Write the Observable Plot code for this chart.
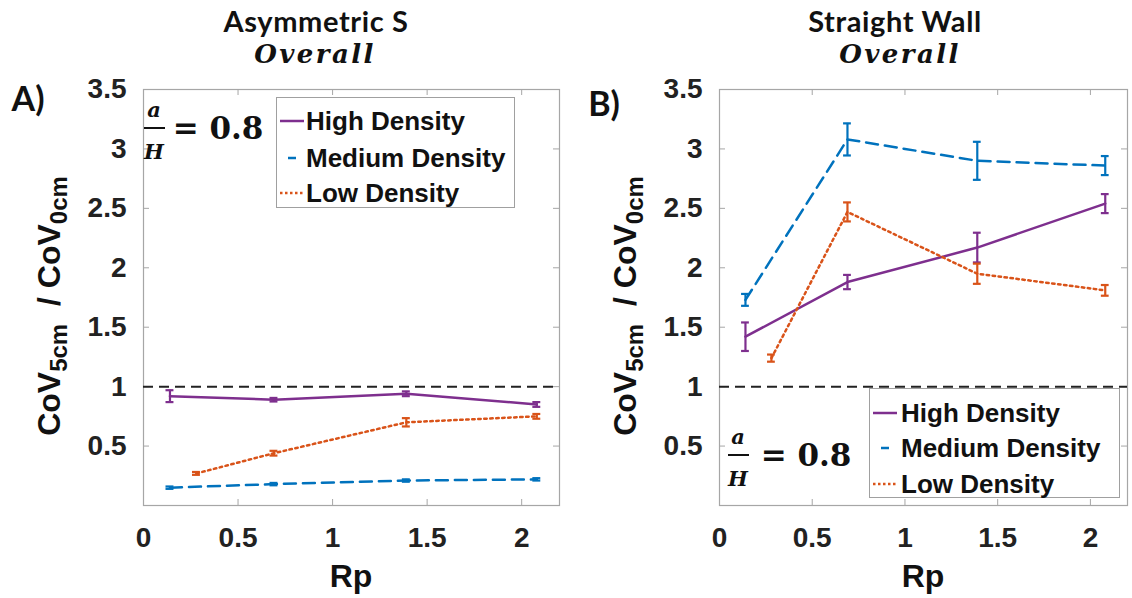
<!DOCTYPE html>
<html><head><meta charset="utf-8">
<script src="https://cdn.jsdelivr.net/npm/d3@7"></script>
<script src="https://cdn.jsdelivr.net/npm/@observablehq/plot@0.6"></script>
<style>
body{margin:0;background:#fff;}
#root{position:relative;width:1132px;height:598px;overflow:hidden;font-family:"Liberation Sans",Arial,sans-serif;color:#111;}
.abs{position:absolute;white-space:nowrap;line-height:1;transform:translate(-50%,-50%);}
.panel{position:absolute;top:0;}
.title{font-family:Lato,"Open Sans",sans-serif;font-weight:bold;font-size:29px;letter-spacing:0.6px;line-height:0.85;}
.sub{font-family:"DejaVu Serif",serif;font-style:italic;font-weight:bold;font-size:26px;letter-spacing:2.4px;line-height:0.85;}
.tag{font-family:Lato,"Open Sans",sans-serif;font-weight:bold;font-size:34px;}
.ylab{font-weight:bold;font-size:32px;transform:translate(-50%,-50%) rotate(-90deg);}
.ylab sub{font-size:24px;vertical-align:-0.32em;}
.xlab{font-weight:bold;font-size:32px;}
.frac{font-family:"DejaVu Serif",serif;font-style:italic;font-weight:bold;font-size:21px;}
.eq{font-family:"DejaVu Serif",serif;font-weight:bold;font-size:31px;}
.bar{position:absolute;height:2px;background:#111;}
.legend{position:absolute;background:#fff;border:1px solid #a0a0a0;box-sizing:border-box;}
.legend .row{position:absolute;left:0;font-weight:bold;font-size:26px;white-space:nowrap;line-height:1;}
</style></head><body><div id="root"></div><script>
// ---- data ----
const rpHighMed = [0.14, 0.69, 1.39, 2.08];
const rpLow = [0.28, 0.69, 1.39, 2.08];
const seriesNames = ["High Density", "Medium Density", "Low Density"];
const seriesColors = ["#7E2F8E", "#0072BD", "#D95319"];
const seriesDash = [null, "12,7", "2.5,3.5"];

const asymHigh = [0.92, 0.89, 0.94, 0.85];
const asymHighErr = [0.05, 0.015, 0.02, 0.02];
const asymMed = [0.15, 0.18, 0.21, 0.22];
const asymMedErr = [0.01, 0.01, 0.01, 0.01];
const asymLow = [0.27, 0.44, 0.70, 0.75];
const asymLowErr = [0.012, 0.02, 0.035, 0.02];

const wallHigh = [1.42, 1.88, 2.17, 2.54];
const wallHighErr = [0.12, 0.06, 0.125, 0.08];
const wallMed = [1.73, 3.08, 2.90, 2.86];
const wallMedErr = [0.05, 0.135, 0.16, 0.08];
const wallLow = [1.24, 2.47, 1.95, 1.81];
const wallLowErr = [0.03, 0.08, 0.085, 0.045];

const xTicks = [0, 0.5, 1, 1.5, 2];
const yTicks = [0.5, 1, 1.5, 2, 2.5, 3, 3.5];
const refLine = [1];

function rows(name, xs, ys, es) {
  return xs.map((x, i) => ({series: name, x, y: ys[i], e: es[i]}));
}
const asymData = [
  rows(seriesNames[0], rpHighMed, asymHigh, asymHighErr),
  rows(seriesNames[1], rpHighMed, asymMed, asymMedErr),
  rows(seriesNames[2], rpLow, asymLow, asymLowErr)
];
const wallData = [
  rows(seriesNames[0], rpHighMed, wallHigh, wallHighErr),
  rows(seriesNames[1], rpHighMed, wallMed, wallMedErr),
  rows(seriesNames[2], rpLow, wallLow, wallLowErr)
];

const W = 566, H = 598, MT = 89, MB = 93;
const grey = "#a6a6a6";

function panel(data, ml, mr) {
  const pw = W - ml - mr, ph = H - MT - MB;
  const marks = [
    Plot.frame({stroke: grey, strokeWidth: 1.2}),
    Plot.ruleX(xTicks, {stroke: grey, insetTop: ph - 6}),
    Plot.ruleX(xTicks, {stroke: grey, insetBottom: ph - 6}),
    Plot.ruleY(yTicks, {stroke: grey, insetRight: pw - 6}),
    Plot.ruleY(yTicks, {stroke: grey, insetLeft: pw - 6}),
    Plot.axisX(xTicks, {anchor: "bottom", tickSize: 0, tickPadding: 22, tickFormat: d => String(d), label: null}),
    Plot.axisY(yTicks, {anchor: "left", tickSize: 0, tickPadding: 17, tickFormat: d => String(d), label: null}),
    Plot.ruleY(refLine, {stroke: "#222", strokeWidth: 2, strokeDasharray: "10,6"})
  ];
  data.forEach((d, i) => {
    const c = seriesColors[i];
    marks.push(Plot.line(d, {x: "x", y: "y", stroke: c, strokeWidth: 2.5, strokeDasharray: seriesDash[i]}));
    marks.push(Plot.ruleX(d, {x: "x", y1: r => r.y - r.e, y2: r => r.y + r.e, stroke: c, strokeWidth: 2.2}));
    marks.push(Plot.ruleY(d, {y: r => r.y - r.e, x1: r => r.x - 0.021, x2: r => r.x + 0.021, stroke: c, strokeWidth: 2.2}));
    marks.push(Plot.ruleY(d, {y: r => r.y + r.e, x1: r => r.x - 0.021, x2: r => r.x + 0.021, stroke: c, strokeWidth: 2.2}));
  });
  return Plot.plot({
    width: W, height: H, marginLeft: ml, marginRight: mr, marginTop: MT, marginBottom: MB,
    x: {domain: [0, 2.2]}, y: {domain: [0, 3.5]},
    style: {fontFamily: "'Liberation Sans', Arial, sans-serif", fontWeight: "bold", fontSize: "28px", color: "#222", background: "transparent", overflow: "visible"},
    marks
  });
}

const root = document.getElementById("root");
function add(html, cls, x, y) {
  const d = document.createElement("div");
  d.className = "abs " + cls;
  d.style.left = x + "px"; d.style.top = y + "px";
  d.innerHTML = html;
  root.appendChild(d);
  return d;
}

const p1 = panel(asymData, 143, 7);
p1.classList.add("panel"); p1.style.left = "0px";
root.appendChild(p1);
const p2 = panel(wallData, 153, 5);
p2.classList.add("panel"); p2.style.left = "566px";
root.appendChild(p2);

// titles
add("Asymmetric S", "title", 316, 21);
add("Overall", "sub", 315, 54);
add("Straight Wall", "title", 895, 21);
add("Overall", "sub", 900, 54);
add("A)", "tag", 28, 98);
add("B)", "tag", 604, 103);
// axis labels
const ylabHtml = "CoV<sub>5cm</sub>&nbsp;&nbsp;/&nbsp;CoV<sub>0cm</sub>";
add(ylabHtml, "ylab", 52, 306);
add(ylabHtml, "ylab", 628, 306);
add("Rp", "xlab", 351, 576);
add("Rp", "xlab", 923, 576);

// a/H = 0.8 annotations
function frac(cx, cy, eqx) {
  add("a", "frac", cx, cy - 19);
  add("H", "frac", cx, cy + 23);
  const b = document.createElement("div");
  b.className = "bar"; b.style.left = (cx - 10) + "px"; b.style.top = (cy - 1) + "px"; b.style.width = "21px";
  root.appendChild(b);
  add("= 0.8", "eq", eqx, cy);
}
frac(154, 128, 218);
frac(738, 455, 806);

// legends
function legend(x, y, w, h, rowYs, sx, tx) {
  const box = document.createElement("div");
  box.className = "legend";
  box.style.left = x + "px"; box.style.top = y + "px"; box.style.width = w + "px"; box.style.height = h + "px";
  seriesNames.forEach((name, i) => {
    const s = document.createElementNS("http://www.w3.org/2000/svg", "svg");
    s.setAttribute("width", 24); s.setAttribute("height", 6);
    s.style.position = "absolute"; s.style.left = sx + "px"; s.style.top = (rowYs[i] - 3) + "px";
    const l = document.createElementNS("http://www.w3.org/2000/svg", "line");
    l.setAttribute("x1", 0); l.setAttribute("x2", 24); l.setAttribute("y1", 3); l.setAttribute("y2", 3);
    l.setAttribute("stroke", seriesColors[i]); l.setAttribute("stroke-width", 2.5);
    if (i === 1) { l.setAttribute("stroke-dasharray", "8,30"); l.setAttribute("stroke-dashoffset", "-8"); }
    if (i === 2) l.setAttribute("stroke-dasharray", "2.5,2.5");
    s.appendChild(l);
    box.appendChild(s);
    const t = document.createElement("div");
    t.className = "row"; t.textContent = name;
    t.style.left = tx + "px"; t.style.top = (rowYs[i] - 13) + "px";
    box.appendChild(t);
  });
  root.appendChild(box);
}
legend(276, 97, 239, 111, [23, 60, 95], 3, 29);
legend(869, 388, 251, 110, [24, 59, 95], 3, 31);
</script></body></html>
